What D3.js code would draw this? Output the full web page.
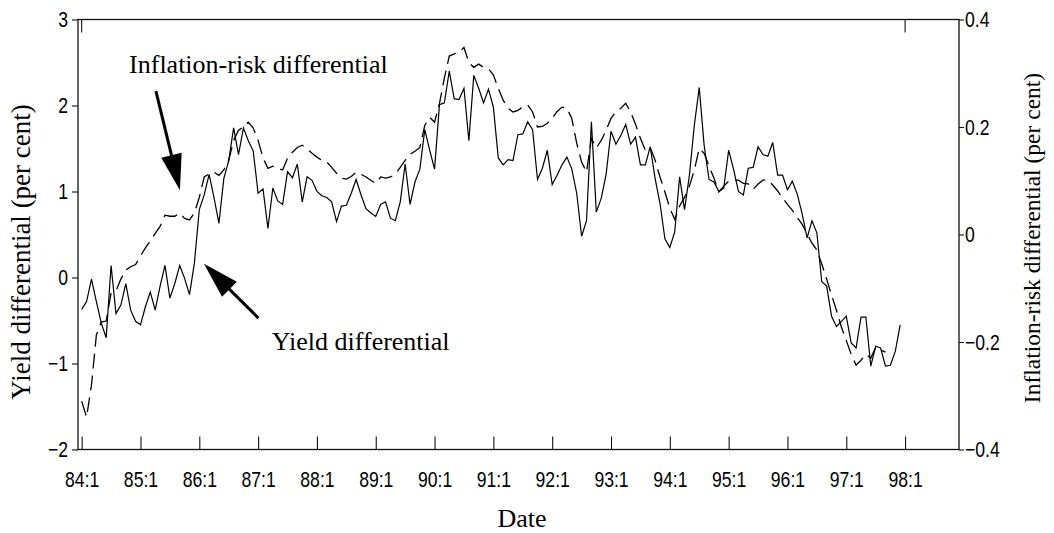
<!DOCTYPE html>
<html>
<head>
<meta charset="utf-8">
<script src="https://cdn.jsdelivr.net/npm/d3@7"></script>
<style>
  html, body { margin: 0; padding: 0; background: #fff; }
  svg { display: block; }
  .tick-label { font-family: "Liberation Sans Narrow", "Arial Narrow", "Liberation Sans", sans-serif; font-size: 22px; fill: #000; }
  .serif { font-family: "Liberation Serif", "Times New Roman", serif; fill: #000; }
</style>
</head>
<body>
<svg id="chart" width="1054" height="533"></svg>
<script>
// Monthly observations, 84:1 through 97:12 (month index 0 = 84:1)
const yieldDiff = [
  -0.37, -0.28, -0.02, -0.28, -0.53, -0.70, 0.14, -0.42, -0.32, -0.07, -0.38, -0.51,
  -0.55, -0.34, -0.17, -0.38, -0.10, 0.14, -0.24, -0.07, 0.14, -0.01, -0.20, 0.17,
  0.79, 0.96, 1.20, 0.93, 0.63, 1.15, 1.36, 1.74, 1.43, 1.74, 1.59, 1.47,
  0.98, 1.03, 0.57, 1.04, 0.89, 0.85, 1.23, 1.16, 1.32, 0.88, 1.17, 1.13,
  1.00, 0.95, 0.93, 0.88, 0.65, 0.83, 0.84, 0.98, 1.14, 0.96, 0.80, 0.75,
  0.71, 0.85, 0.88, 0.69, 0.66, 0.88, 1.32, 0.85, 1.11, 1.26, 1.72, 1.48,
  1.26, 2.01, 2.03, 2.40, 2.08, 2.07, 2.20, 1.59, 2.35, 2.20, 2.03, 2.19,
  1.98, 1.39, 1.31, 1.37, 1.36, 1.66, 1.67, 1.81, 1.72, 1.14, 1.27, 1.48,
  1.08, 1.19, 1.31, 1.40, 1.26, 0.98, 0.48, 0.66, 1.81, 0.76, 0.92, 1.20,
  1.70, 1.55, 1.65, 1.78, 1.55, 1.63, 1.31, 1.31, 1.52, 1.15, 0.86, 0.45,
  0.35, 0.53, 1.17, 0.79, 1.19, 1.77, 2.21, 1.54, 1.14, 1.11, 1.00, 1.04,
  1.48, 1.26, 1.00, 0.96, 1.27, 1.28, 1.52, 1.43, 1.41, 1.57, 1.19, 1.19,
  1.02, 1.12, 0.97, 0.74, 0.46, 0.66, 0.52, -0.05, -0.10, -0.45, -0.57, -0.51,
  -0.45, -0.76, -0.82, -0.46, -0.46, -1.03, -0.80, -0.82, -1.03, -1.02, -0.86, -0.55
];

// Inflation-risk differential (right axis), 84:1 through 97:9
const inflationRisk = [
  -0.31, -0.34, -0.28, -0.187, -0.163, -0.161, -0.109, -0.105, -0.083, -0.066, -0.060, -0.056,
  -0.040, -0.025, -0.012, 0.002, 0.015, 0.036, 0.034, 0.034, 0.040, 0.030, 0.027, 0.040,
  0.069, 0.107, 0.113, 0.116, 0.110, 0.120, 0.138, 0.175, 0.194, 0.200, 0.209, 0.198,
  0.175, 0.142, 0.123, 0.127, 0.123, 0.120, 0.142, 0.153, 0.162, 0.166, 0.159, 0.151,
  0.144, 0.138, 0.135, 0.125, 0.114, 0.105, 0.103, 0.108, 0.116, 0.112, 0.107, 0.101,
  0.095, 0.107, 0.105, 0.107, 0.112, 0.125, 0.138, 0.149, 0.155, 0.162, 0.203, 0.218,
  0.209, 0.244, 0.291, 0.332, 0.336, 0.339, 0.348, 0.320, 0.311, 0.317, 0.311, 0.308,
  0.297, 0.272, 0.250, 0.235, 0.228, 0.231, 0.237, 0.241, 0.228, 0.200, 0.201, 0.207,
  0.216, 0.229, 0.237, 0.235, 0.216, 0.170, 0.135, 0.116, 0.179, 0.161, 0.175, 0.194,
  0.216, 0.228, 0.235, 0.244, 0.228, 0.205, 0.179, 0.157, 0.162, 0.138, 0.107, 0.079,
  0.049, 0.028, 0.053, 0.069, 0.090, 0.120, 0.160, 0.151, 0.127, 0.105, 0.079, 0.090,
  0.099, 0.101, 0.101, 0.095, 0.094, 0.084, 0.094, 0.101, 0.101, 0.092, 0.081, 0.068,
  0.056, 0.045, 0.032, 0.019, 0.001, -0.016, -0.029, -0.055, -0.083, -0.113, -0.141, -0.172,
  -0.197, -0.223, -0.243, -0.234, -0.223, -0.230, -0.210, -0.215, -0.219
];

// Date axis: a tick at each January
const dateTickMonths = [0, 12, 24, 36, 48, 60, 72, 84, 96, 108, 120, 132, 144, 156, 168];
const dateTickLabels = ["84:1", "85:1", "86:1", "87:1", "88:1", "89:1", "90:1", "91:1",
                        "92:1", "93:1", "94:1", "95:1", "96:1", "97:1", "98:1"];
const leftTicks = [-2, -1, 0, 1, 2, 3];
const rightTicks = [-0.4, -0.2, 0, 0.2, 0.4];
const rightTickLabels = ["\u22120.4", "\u22120.2", "0", "0.2", "0.4"];

const svg = d3.select("#chart");
const frame = { left: 78, right: 959, top: 19.5, bottom: 449.5 };

const x = d3.scaleLinear().domain([-0.75, 179]).range([frame.left, frame.right]);
const yL = d3.scaleLinear().domain([-2, 3]).range([frame.bottom, frame.top]);
const yR = d3.scaleLinear().domain([-0.4, 0.4]).range([frame.bottom, frame.top]);

const ink = "#111";

// Narrow-face tick labels: squeeze the glyphs horizontally
function condense(sel) {
  sel.each(function () {
    const w = this.getComputedTextLength();
    d3.select(this)
      .attr("textLength", (w * 0.8).toFixed(2))
      .attr("lengthAdjust", "spacingAndGlyphs");
  });
}

// Frame
svg.append("rect")
  .attr("x", frame.left).attr("y", frame.top)
  .attr("width", frame.right - frame.left).attr("height", frame.bottom - frame.top)
  .attr("fill", "none").attr("stroke", ink).attr("stroke-width", 1.3);

// Bottom axis: inward ticks
const xAxis = d3.axisBottom(x)
  .tickValues(dateTickMonths)
  .tickSize(-13)
  .tickPadding(22)
  .tickFormat((d, i) => dateTickLabels[i]);
const gx = svg.append("g").attr("transform", `translate(0,${frame.bottom})`).call(xAxis);
gx.select(".domain").remove();
gx.selectAll(".tick line").attr("stroke", ink).attr("stroke-width", 1.1);
gx.selectAll(".tick text").attr("class", "tick-label").attr("fill", "#000").call(condense);

// Top edge: inward ticks at the first and last January
svg.append("g").selectAll("line")
  .data([dateTickMonths[0], dateTickMonths[dateTickMonths.length - 1]])
  .join("line")
  .attr("x1", d => x(d)).attr("x2", d => x(d))
  .attr("y1", frame.top).attr("y2", frame.top + 13)
  .attr("stroke", ink).attr("stroke-width", 1.1);

// Left axis
const yAxisL = d3.axisLeft(yL).tickValues(leftTicks).tickSize(6).tickPadding(4)
  .tickFormat(d => d < 0 ? "\u2212" + Math.abs(d) : String(d));
const gl = svg.append("g").attr("transform", `translate(${frame.left},0)`).call(yAxisL);
gl.select(".domain").remove();
gl.selectAll(".tick line").attr("stroke", ink).attr("stroke-width", 1.1);
gl.selectAll(".tick text").attr("class", "tick-label").attr("fill", "#000").call(condense);

// Right axis
const yAxisR = d3.axisRight(yR).tickValues(rightTicks).tickSize(5).tickPadding(1)
  .tickFormat((d, i) => rightTickLabels[i]);
const gr = svg.append("g").attr("transform", `translate(${frame.right},0)`).call(yAxisR);
gr.select(".domain").remove();
gr.selectAll(".tick line").attr("stroke", ink).attr("stroke-width", 1.1);
gr.selectAll(".tick text").attr("class", "tick-label").attr("fill", "#000").call(condense);

// Series
const yieldLine = d3.line().x((d, i) => x(i)).y(d => yL(d));
const inflLine = d3.line().x((d, i) => x(i)).y(d => yR(d));

svg.append("path").datum(inflationRisk)
  .attr("d", inflLine)
  .attr("fill", "none").attr("stroke", "#000").attr("stroke-width", 1.3)
  .attr("stroke-dasharray", "15,7");

svg.append("path").datum(yieldDiff)
  .attr("d", yieldLine)
  .attr("fill", "none").attr("stroke", "#000").attr("stroke-width", 1.2);

// Annotation arrows
function arrow(tail, tip) {
  const dx = tip[0] - tail[0], dy = tip[1] - tail[1];
  const len = Math.hypot(dx, dy);
  const ux = dx / len, uy = dy / len;
  const headLen = 36, headHalf = 10.5;
  const bx = tip[0] - ux * headLen, by = tip[1] - uy * headLen;
  svg.append("line")
    .attr("x1", tail[0]).attr("y1", tail[1])
    .attr("x2", bx + ux * 2).attr("y2", by + uy * 2)
    .attr("stroke", "#000").attr("stroke-width", 3);
  svg.append("path")
    .attr("d", `M${tip[0]},${tip[1]}L${bx - uy * headHalf},${by + ux * headHalf}L${bx + uy * headHalf},${by - ux * headHalf}Z`)
    .attr("fill", "#000");
}
arrow([x(15.15), yR(0.2666)], [x(20.05), yR(0.0824)]);
arrow([x(36.05), yL(-0.472)], [x(24.95), yL(0.159)]);

svg.append("text").attr("class", "serif")
  .attr("x", x(9.67)).attr("y", yR(0.30))
  .attr("font-size", 26)
  .text("Inflation-risk differential");

svg.append("text").attr("class", "serif")
  .attr("x", x(38.78)).attr("y", yL(-0.84))
  .attr("font-size", 26)
  .text("Yield differential");

// Axis titles
svg.append("text").attr("class", "serif")
  .attr("text-anchor", "middle").attr("font-size", 27)
  .attr("transform", "translate(30,252) rotate(-90)")
  .text("Yield differential (per cent)");

svg.append("text").attr("class", "serif")
  .attr("text-anchor", "middle").attr("font-size", 23.5)
  .attr("transform", "translate(1040,238) rotate(-90)")
  .text("Inflation-risk differential (per cent)");

svg.append("text").attr("class", "serif")
  .attr("text-anchor", "middle").attr("font-size", 26)
  .attr("x", 522).attr("y", 527)
  .text("Date");
</script>
</body>
</html>
